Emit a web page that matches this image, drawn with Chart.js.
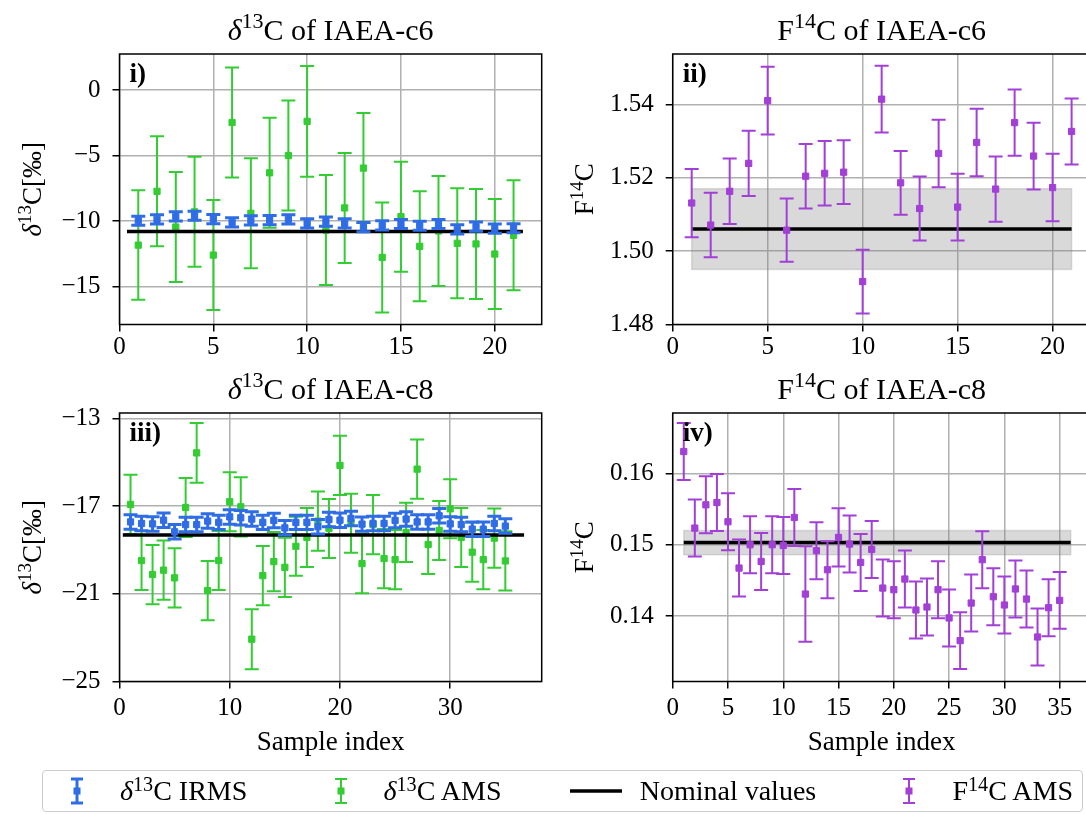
<!DOCTYPE html>
<html>
<head>
<meta charset="utf-8">
<script src="https://cdn.jsdelivr.net/npm/chart.js@4.4.1/dist/chart.umd.min.js"></script>
<style>
  html, body { margin: 0; padding: 0; background: #fff; overflow: hidden; width: 1086px; height: 814px; }
  canvas { position: absolute; }
  #legend {
    position: absolute; left: 42px; top: 770px; width: 1041px; height: 42px;
    box-sizing: border-box; border: 1.5px solid #cccccc; border-radius: 4px;
    display: flex; align-items: center; justify-content: space-between; padding: 0 9px;
    font-family: "Liberation Serif", serif; font-size: 28px; color: #000;
  }
  .item { display: flex; align-items: center; white-space: nowrap; }
  .item svg { margin-right: 18px; }
  sup { font-size: 0.72em; vertical-align: 0; position: relative; top: -0.45em; line-height: 0; }
</style>
</head>
<body>
<canvas id="c1" width="560" height="370" style="left:0;top:0"></canvas>
<canvas id="c2" width="536" height="370" style="left:560px;top:0"></canvas>
<canvas id="c3" width="560" height="406" style="left:0;top:360px"></canvas>
<canvas id="c4" width="536" height="406" style="left:560px;top:360px"></canvas>

<div id="legend">
  <div class="item">
    <svg width="50" height="30"><g stroke="#2f6de6" stroke-width="3"><line x1="25" y1="3" x2="25" y2="27"/><line x1="19" y1="3" x2="31" y2="3"/><line x1="19" y1="27" x2="31" y2="27"/></g><rect x="21.5" y="11.5" width="7" height="7" fill="#2f6de6"/></svg>
    <span><i>δ</i><sup>13</sup>C IRMS</span>
  </div>
  <div class="item">
    <svg width="50" height="30"><g stroke="#33cc33" stroke-width="2"><line x1="25" y1="3" x2="25" y2="27"/><line x1="19" y1="3" x2="31" y2="3"/><line x1="19" y1="27" x2="31" y2="27"/></g><rect x="21.5" y="11.5" width="7" height="7" fill="#33cc33"/></svg>
    <span><i>δ</i><sup>13</sup>C AMS</span>
  </div>
  <div class="item">
    <svg width="52" height="30"><line x1="0" y1="15" x2="52" y2="15" stroke="#000" stroke-width="3.5"/></svg>
    <span>Nominal values</span>
  </div>
  <div class="item">
    <svg width="50" height="30"><g stroke="#a23fd6" stroke-width="2"><line x1="25" y1="3" x2="25" y2="27"/><line x1="19" y1="3" x2="31" y2="3"/><line x1="19" y1="27" x2="31" y2="27"/></g><rect x="21.5" y="11.5" width="7" height="7" fill="#a23fd6"/></svg>
    <span>F<sup>14</sup>C AMS</span>
  </div>
</div>

<script>
// sample indices
const c6Index = [1, 2, 3, 4, 5, 6, 7, 8, 9, 10, 11, 12, 13, 14, 15, 16, 17, 18, 19, 20, 21];
const c8Index = [1, 2, 3, 4, 5, 6, 7, 8, 9, 10, 11, 12, 13, 14, 15, 16, 17, 18, 19, 20,
  21, 22, 23, 24, 25, 26, 27, 28, 29, 30, 31, 32, 33, 34, 35];

// IAEA-c6
const c6IrmsD13 = [-9.98, -9.87, -9.64, -9.6, -9.85, -10.1, -9.95, -9.93, -9.87, -10.18, -10.05,
  -10.18, -10.46, -10.33, -10.23, -10.36, -10.23, -10.64, -10.43, -10.58, -10.55];
const c6IrmsD13Err = [0.35, 0.35, 0.35, 0.35, 0.35, 0.35, 0.35, 0.35, 0.35, 0.35, 0.35,
  0.35, 0.35, 0.35, 0.35, 0.35, 0.35, 0.35, 0.35, 0.35, 0.35];
const c6AmsD13 = [-11.84, -7.73, -10.46, -9.3, -12.6, -2.48, -9.41, -6.32, -5.0, -2.39, -10.69,
  -9.0, -5.96, -12.78, -9.67, -11.93, -10.76, -11.7, -11.75, -12.52, -11.09];
const c6AmsD13Err = [4.18, 4.2, 4.2, 4.2, 4.2, 4.2, 4.2, 4.2, 4.2, 4.23, 4.2,
  4.2, 4.2, 4.2, 4.2, 4.2, 4.2, 4.2, 4.2, 4.2, 4.2];
const c6AmsF14 = [1.5131, 1.5071, 1.5163, 1.5239, 1.541, 1.5057, 1.5204, 1.5212, 1.5215, 1.4917, 1.5414,
  1.5186, 1.5116, 1.5266, 1.512, 1.5296, 1.5169, 1.535, 1.5259, 1.5173, 1.5326];
const c6AmsF14Err = [0.0093, 0.0088, 0.0089, 0.0089, 0.0092, 0.0086, 0.0088, 0.0088, 0.0087, 0.0087, 0.0091,
  0.0087, 0.0087, 0.0092, 0.0091, 0.0092, 0.0089, 0.009, 0.0091, 0.0092, 0.009];
const c6NominalD13 = -10.8;
const c6NominalF14 = 1.506;
const c6NominalF14Unc = 0.011;

// IAEA-c8
const c8IrmsD13 = [-17.72, -17.79, -17.81, -17.64, -18.17, -17.84, -17.84, -17.68, -17.74, -17.49,
  -17.53, -17.59, -17.74, -17.65, -17.99, -17.74, -17.74, -17.94, -17.61, -17.64,
  -17.56, -17.82, -17.79, -17.79, -17.65, -17.59, -17.72, -17.72, -17.44, -17.81,
  -17.84, -18.05, -18.05, -17.79, -17.91];
const c8IrmsD13Err = [0.33, 0.33, 0.33, 0.33, 0.33, 0.33, 0.33, 0.33, 0.33, 0.33,
  0.33, 0.33, 0.33, 0.33, 0.33, 0.33, 0.33, 0.33, 0.33, 0.33,
  0.33, 0.33, 0.33, 0.33, 0.33, 0.33, 0.33, 0.33, 0.33, 0.33,
  0.33, 0.33, 0.33, 0.33, 0.33];
const c8AmsD13 = [-16.92, -19.48, -20.12, -19.92, -20.27, -17.06, -14.57, -20.85, -19.48, -16.8,
  -17.03, -23.07, -20.17, -19.53, -19.79, -18.83, -18.43, -17.68, -18.02, -15.14,
  -17.78, -19.62, -17.84, -19.39, -19.44, -18.2, -15.31, -18.75, -18.11, -17.12,
  -18.43, -19.1, -19.44, -18.46, -19.5];
const c8AmsD13Err = [1.35, 1.35, 1.35, 1.35, 1.35, 1.35, 1.36, 1.35, 1.35, 1.35,
  1.35, 1.37, 1.35, 1.35, 1.35, 1.35, 1.35, 1.35, 1.35, 1.35,
  1.35, 1.35, 1.35, 1.35, 1.35, 1.35, 1.35, 1.35, 1.35, 1.35,
  1.35, 1.35, 1.35, 1.35, 1.35];
const c8AmsF14 = [0.16309, 0.15234, 0.15561, 0.15593, 0.15323, 0.14673, 0.15, 0.14766, 0.15, 0.1499,
  0.15383, 0.14308, 0.14916, 0.14649, 0.15103, 0.1501, 0.14752, 0.14934, 0.14392, 0.14369,
  0.14519, 0.14084, 0.14126, 0.14369, 0.13972, 0.13654, 0.14182, 0.1479, 0.1427, 0.14154,
  0.14379, 0.14238, 0.13705, 0.14116, 0.14219];
const c8AmsF14Err = [0.004, 0.004, 0.004, 0.004, 0.004, 0.004, 0.004, 0.004, 0.004, 0.004,
  0.004, 0.0067, 0.004, 0.004, 0.0041, 0.004, 0.004, 0.004, 0.004, 0.004,
  0.004, 0.004, 0.004, 0.004, 0.004, 0.004, 0.004, 0.004, 0.004, 0.004,
  0.004, 0.004, 0.004, 0.004, 0.004];
const c8NominalD13 = -18.32;
const c8NominalF14 = 0.1503;
const c8NominalF14Unc = 0.0017;

// extent of the nominal line / band along the x axis
const c6D13Span = [0.4, 21.5];
const c6F14Span = [1, 21];
const c8D13Span = [0.3, 36.7];
const c8F14Span = [1, 36];

// tick labels
const c6XTicks = [0, 5, 10, 15, 20];
const c8D13XTicks = [0, 10, 20, 30];
const c8F14XTicks = [0, 5, 10, 15, 20, 25, 30, 35];
const c6D13Ticks = [-15, -10, -5, 0];
const c6F14Ticks = [1.48, 1.50, 1.52, 1.54];
const c8D13Ticks = [-25, -21, -17, -13];
const c8F14Ticks = [0.14, 0.15, 0.16];

// titles and axis labels: [text, style] pieces, style '' | 'i' (italic) | 's' (superscript)
const d13Label = [['δ', 'i'], ['13', 's'], ['C[‰]', '']];
const f14Label = [['F', ''], ['14', 's'], ['C', '']];
const c6D13Title = [['δ', 'i'], ['13', 's'], ['C of IAEA-c6', '']];
const c6F14Title = [['F', ''], ['14', 's'], ['C of IAEA-c6', '']];
const c8D13Title = [['δ', 'i'], ['13', 's'], ['C of IAEA-c8', '']];
const c8F14Title = [['F', ''], ['14', 's'], ['C of IAEA-c8', '']];

const BLUE = '#2f6de6';
const GREEN = '#33cc33';
const PURPLE = '#a23fd6';
const FONT = "'Liberation Serif', serif";

Chart.defaults.font.family = FONT;
Chart.defaults.color = '#000';

function pieceFont(style, size) {
  if (style === 's') return Math.round(size * 0.72) + 'px ' + FONT;
  if (style === 'i') return 'italic ' + size + 'px ' + FONT;
  return size + 'px ' + FONT;
}

// draws rich text centred on x with its baseline at y
function drawRich(ctx, pieces, x, y, size) {
  let w = 0;
  pieces.forEach(p => { ctx.font = pieceFont(p[1], size); w += ctx.measureText(p[0]).width; });
  let cx = x - w / 2;
  ctx.textAlign = 'left';
  ctx.textBaseline = 'alphabetic';
  pieces.forEach(p => {
    ctx.font = pieceFont(p[1], size);
    ctx.fillText(p[0], cx, p[1] === 's' ? y - size * 0.38 : y);
    cx += ctx.measureText(p[0]).width;
  });
}

const errorBars = {
  id: 'errorBars',
  beforeDatasetDraw(chart, args) {
    const ds = chart.data.datasets[args.index];
    if (!ds.errors) return;
    const y = chart.scales.y;
    const ctx = chart.ctx;
    ctx.save();
    ctx.strokeStyle = ds.borderColor;
    ctx.lineWidth = ds.errWidth;
    args.meta.data.forEach((pt, i) => {
      const v = ds.data[i].y;
      const top = y.getPixelForValue(v + ds.errors[i]);
      const bot = y.getPixelForValue(v - ds.errors[i]);
      ctx.beginPath();
      ctx.moveTo(pt.x, top); ctx.lineTo(pt.x, bot);
      ctx.moveTo(pt.x - 7, top); ctx.lineTo(pt.x + 7, top);
      ctx.moveTo(pt.x - 7, bot); ctx.lineTo(pt.x + 7, bot);
      ctx.stroke();
    });
    ctx.restore();
  }
};

const decorations = {
  id: 'decorations',
  beforeDatasetsDraw(chart, args, opts) {
    if (!opts.band) return;
    const {x, y} = chart.scales;
    const b = opts.band;
    const x0 = x.getPixelForValue(b.span[0]), x1 = x.getPixelForValue(b.span[1]);
    const y0 = y.getPixelForValue(b.center + b.unc), y1 = y.getPixelForValue(b.center - b.unc);
    const ctx = chart.ctx;
    ctx.save();
    ctx.fillStyle = 'rgba(128,128,128,0.3)';
    ctx.strokeStyle = 'rgba(128,128,128,0.25)';
    ctx.lineWidth = 1.5;
    ctx.fillRect(x0, y0, x1 - x0, y1 - y0);
    ctx.strokeRect(x0, y0, x1 - x0, y1 - y0);
    ctx.restore();
  },
  afterDraw(chart, args, opts) {
    const a = chart.chartArea;
    const ctx = chart.ctx;
    ctx.save();
    ctx.strokeStyle = '#000';
    ctx.lineWidth = 1.5;
    ctx.strokeRect(a.left, a.top, a.right - a.left, a.bottom - a.top);
    ctx.fillStyle = '#000';
    ctx.font = 'bold 27px ' + FONT;
    ctx.textBaseline = 'alphabetic';
    ctx.fillText(opts.tag, a.left + 10, a.top + 28);
    drawRich(ctx, opts.title, (a.left + a.right) / 2, opts.titleBase, 30);
    ctx.translate(opts.yLabelBase, (a.top + a.bottom) / 2);
    ctx.rotate(-Math.PI / 2);
    drawRich(ctx, opts.yLabel, 0, 0, 27);
    ctx.restore();
  }
};

function fmt(v, digits) {
  return v.toFixed(digits).replace('-', '\u2212');
}

function panel(id, o) {
  const datasets = o.series.map(s => ({
    type: 'scatter',
    data: s.x.map((x, i) => ({x: x, y: s.y[i]})),
    errors: s.err,
    errWidth: s.lw,
    backgroundColor: s.color,
    borderColor: s.color,
    borderWidth: 1,
    pointStyle: 'rect',
    pointRadius: 4.4,
    order: s.order
  }));
  datasets.push({
    type: 'line',
    data: o.span.map(x => ({x: x, y: o.nominal})),
    borderColor: '#000',
    borderWidth: 3.5,
    borderCapStyle: 'butt',
    pointRadius: 0,
    order: o.lineOrder
  });

  const grid = { color: '#b0b0b0', lineWidth: 1.5, tickColor: '#000', tickWidth: 1.5, tickLength: 7 };

  return new Chart(document.getElementById(id), {
    data: { datasets: datasets },
    plugins: [errorBars, decorations],
    options: {
      responsive: false,
      animation: false,
      events: [],
      layout: { padding: { left: 0, right: o.padRight, top: o.top, bottom: 0 } },
      plugins: {
        legend: { display: false },
        tooltip: { enabled: false },
        decorations: { band: o.band, tag: o.tag, title: o.title, titleBase: o.titleBase,
                       yLabel: o.yLabel, yLabelBase: o.yLabelBase }
      },
      scales: {
        x: {
          type: 'linear', min: 0, max: o.xMax,
          afterBuildTicks: s => { s.ticks = o.xTicks.map(v => ({value: v})); },
          afterFit: s => { s.height = o.xHeight; },
          ticks: { font: { size: 25 }, color: '#000', padding: o.xPad, autoSkip: false, maxRotation: 0,
                   callback: v => fmt(v, 0) },
          grid: grid,
          border: { display: false },
          title: o.xTitle
            ? { display: true, text: o.xTitle, font: { size: 27 }, color: '#000', padding: { top: 0, bottom: 6.8 } }
            : { display: false }
        },
        y: {
          type: 'linear', min: o.yMin, max: o.yMax,
          afterBuildTicks: s => { s.ticks = o.yTicks.map(v => ({value: v})); },
          afterFit: s => { s.width = o.yWidth; },
          ticks: { font: { size: 25 }, color: '#000', padding: 12, autoSkip: false,
                   callback: v => fmt(v, o.yDigits) },
          grid: grid,
          border: { display: false }
        }
      }
    }
  });
}

panel('c1', {
  title: c6D13Title, titleBase: 39.5, tag: 'i)', top: 54,
  series: [
    { x: c6Index, y: c6AmsD13, err: c6AmsD13Err, color: GREEN, lw: 2, order: 3 },
    { x: c6Index, y: c6IrmsD13, err: c6IrmsD13Err, color: BLUE, lw: 3, order: 1 }
  ],
  nominal: c6NominalD13, span: c6D13Span, lineOrder: 2,
  xMax: 22.5, xTicks: c6XTicks, xHeight: 45.5, xPad: 1, padRight: 18.3,
  yMin: -17.9, yMax: 2.75, yTicks: c6D13Ticks, yDigits: 0,
  yWidth: 119.5, yLabel: d13Label, yLabelBase: 41
});

panel('c2', {
  title: c6F14Title, titleBase: 39.5, tag: 'ii)', top: 54,
  series: [
    { x: c6Index, y: c6AmsF14, err: c6AmsF14Err, color: PURPLE, lw: 2, order: 1 }
  ],
  nominal: c6NominalF14, span: c6F14Span, lineOrder: 2,
  band: { center: c6NominalF14, unc: c6NominalF14Unc, span: c6F14Span },
  xMax: 22.0, xTicks: c6XTicks, xHeight: 45.5, xPad: 1, padRight: 0,
  yMin: 1.48, yMax: 1.5537, yTicks: c6F14Ticks, yDigits: 2,
  yWidth: 112.7, yLabel: f14Label, yLabelBase: 33
});

panel('c3', {
  title: c8D13Title, titleBase: 38.5, tag: 'iii)', top: 53,
  series: [
    { x: c8Index, y: c8AmsD13, err: c8AmsD13Err, color: GREEN, lw: 2, order: 3 },
    { x: c8Index, y: c8IrmsD13, err: c8IrmsD13Err, color: BLUE, lw: 3, order: 1 }
  ],
  nominal: c8NominalD13, span: c8D13Span, lineOrder: 2,
  xMax: 38.3, xTicks: c8D13XTicks, xHeight: 84.5, xPad: 5, padRight: 18.3, xTitle: 'Sample index',
  yMin: -25, yMax: -12.75, yTicks: c8D13Ticks, yDigits: 0,
  yWidth: 119.5, yLabel: d13Label, yLabelBase: 41
});

panel('c4', {
  title: c8F14Title, titleBase: 38.5, tag: 'iv)', top: 53,
  series: [
    { x: c8Index, y: c8AmsF14, err: c8AmsF14Err, color: PURPLE, lw: 2, order: 1 }
  ],
  nominal: c8NominalF14, span: c8F14Span, lineOrder: 2,
  band: { center: c8NominalF14, unc: c8NominalF14Unc, span: c8F14Span },
  xMax: 37.8, xTicks: c8F14XTicks, xHeight: 84.5, xPad: 5, padRight: 0, xTitle: 'Sample index',
  yMin: 0.1308, yMax: 0.1685, yTicks: c8F14Ticks, yDigits: 2,
  yWidth: 112.7, yLabel: f14Label, yLabelBase: 33
});
</script>
</body>
</html>
